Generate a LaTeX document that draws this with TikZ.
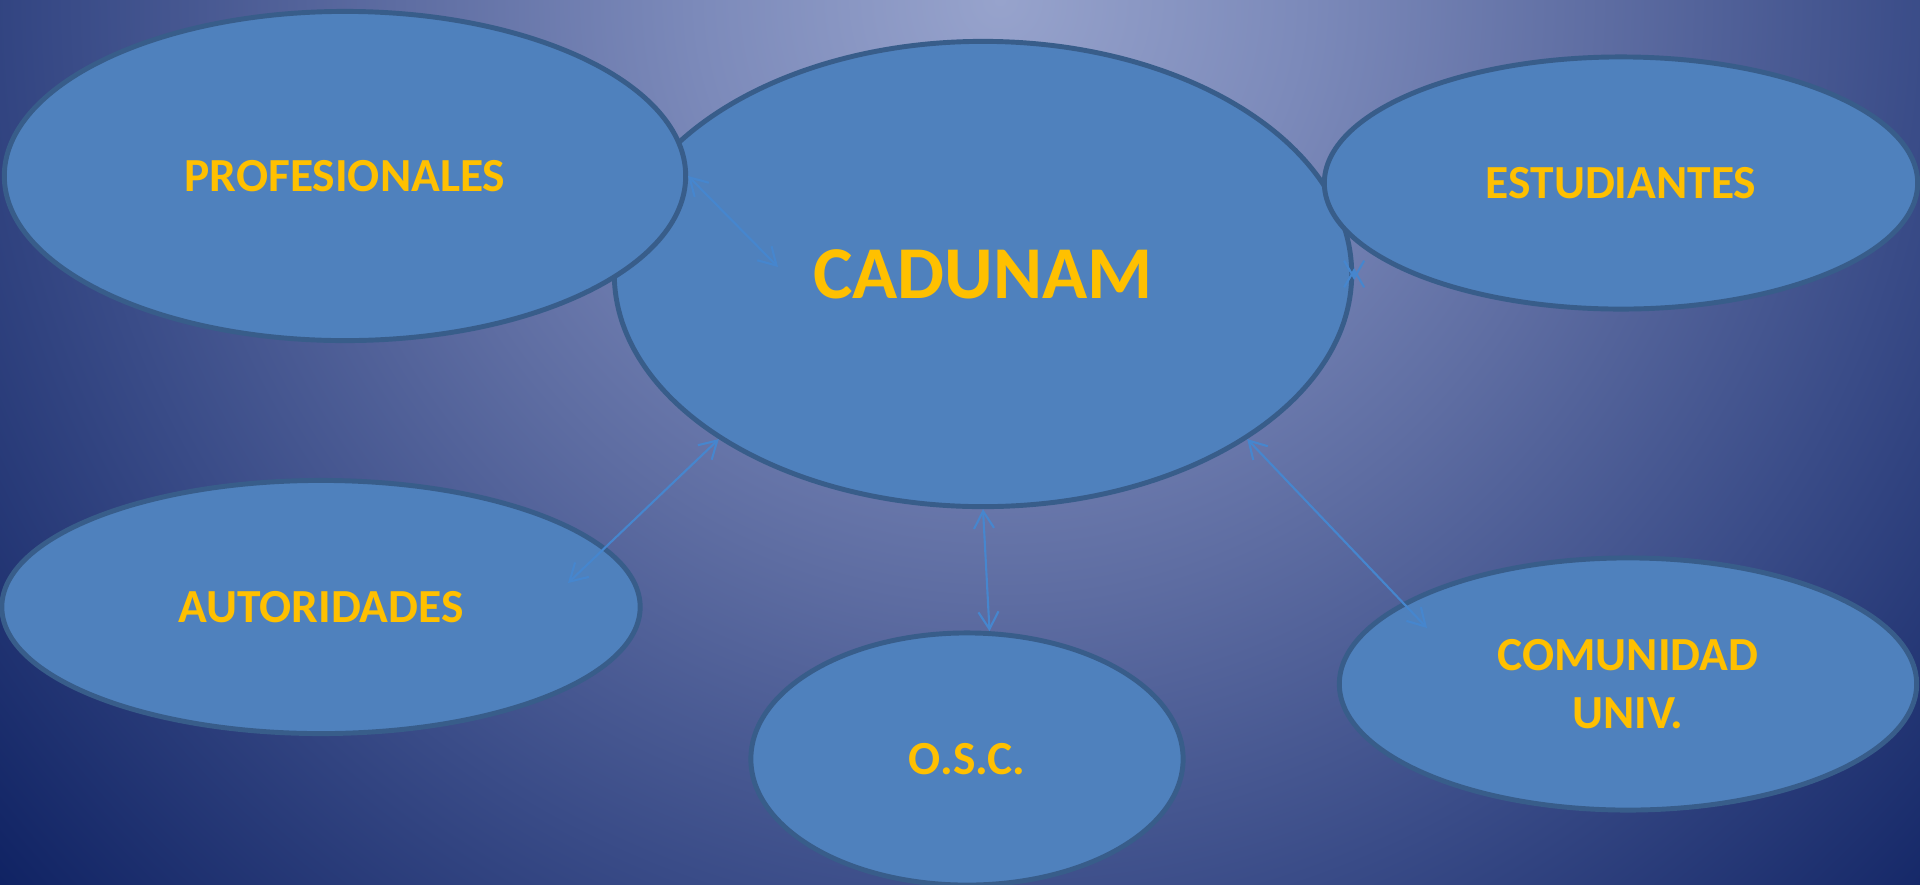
\documentclass[tikz,border=0pt]{standalone}
\usepackage{fontspec}
\setmainfont{Carlito}
\usetikzlibrary{shapes.geometric,arrows.meta}

\definecolor{relleno}{HTML}{4F81BD}
\definecolor{borde}{HTML}{385D8A}
\definecolor{letra}{HTML}{FFC000}
\definecolor{flechaazul}{HTML}{4686CE}
\definecolor{bgA}{HTML}{97A3CC}
\definecolor{bgB}{HTML}{7C8ABA}
\definecolor{bgC}{HTML}{5E6DA2}
\definecolor{bgD}{HTML}{3A4C88}
\definecolor{bgE}{HTML}{0C1F60}

\pgfdeclareradialshading{fondo}{\pgfpoint{0bp}{0bp}}{color(0bp)=(bgA); color(5.4bp)=(bgB); color(10.7bp)=(bgC); color(16.5bp)=(bgD); color(24.5bp)=(bgE); color(50bp)=(bgE)}

\begin{document}
\begin{tikzpicture}[x=0.01cm, y=-0.01cm,
    globo/.style={ellipse, draw=borde, fill=relleno, line width=1.4pt, text=letra,
        font=\bfseries\fontsize{13.5}{16.5}\selectfont, align=center},
    flecha/.style={<->, >={Straight Barb[length=4.9pt,width=5.7pt]}, draw=flechaazul, line width=0.6pt}]

    \useasboundingbox (0,0) rectangle (1920,884);

    %Fondo
    \begin{scope}
        \clip (0,0) rectangle (1920,884);
        \shade[shading=fondo] (1000,0) circle (14cm);
    \end{scope}

    %Centro
    \node[globo, minimum width=7.37cm, minimum height=4.65cm,
        font=\bfseries\fontsize{21.2}{26}\selectfont] (cad) at (983,274) {CADUNAM};

    %Alrededor
    \node[globo, minimum width=6.81cm, minimum height=3.29cm] (prof) at (345,176) {PROFESIONALES};
    \node[globo, minimum width=5.93cm, minimum height=2.52cm] (est) at (1621,183) {ESTUDIANTES};
    \node[globo, minimum width=6.38cm, minimum height=2.53cm] (aut) at (321,607) {AUTORIDADES};
    \node[globo, minimum width=4.32cm, minimum height=2.52cm] (osc) at (967,759) {O.S.C.};
    \node[globo, minimum width=5.77cm, minimum height=2.52cm] (com) at (1628,684) {COMUNIDAD\\UNIV.};

    %Flechas
    \coordinate (pf) at (778,267);
    \coordinate (af) at (568,583);
    \coordinate (cf) at (1427,628);
    \draw[flecha] (prof.east) -- (pf);
    \draw[flecha] (cad.212.4) -- (af);
    \draw[flecha] (cad.south) -- (osc.80);
    \draw[flecha] (cad.-32.5) -- (cf);
    \draw[flecha] ([yshift=0.06cm]cad.east) -- ([yshift=-0.06cm]cad.east);
\end{tikzpicture}
\end{document}
